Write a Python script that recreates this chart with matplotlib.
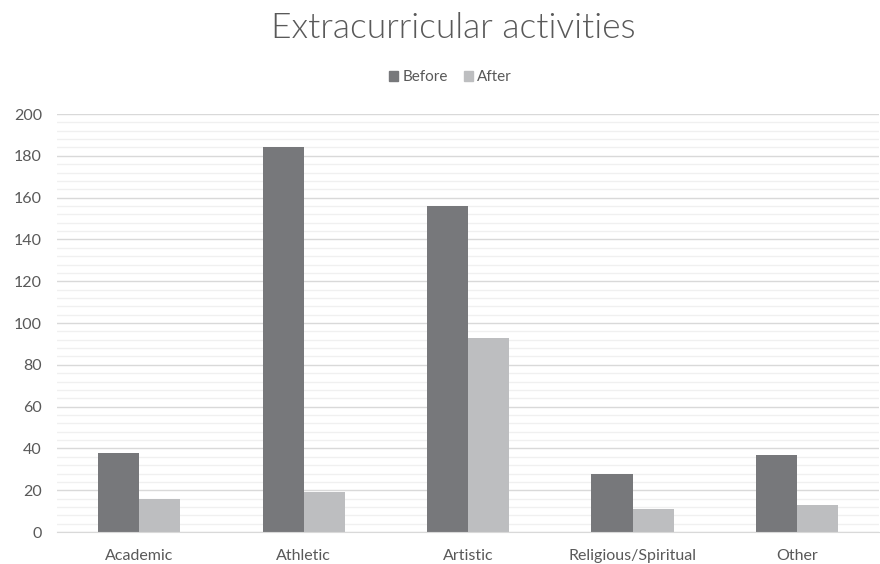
import matplotlib

matplotlib.use("Agg")
import matplotlib.pyplot as plt
import numpy as np
from matplotlib.patches import Patch

CATEGORIES = ["Academic", "Athletic", "Artistic", "Religious/Spiritual", "Other"]
BEFORE = [38, 184, 156, 28, 37]
AFTER = [16, 19, 93, 11, 13]
Y_TICKS = [0, 20, 40, 60, 80, 100, 120, 140, 160, 180, 200]

TEXT = "#595959"
C_BEFORE = "#77787b"
C_AFTER = "#bdbec0"

plt.rcParams["font.family"] = ["Lato", "DejaVu Sans"]

fig = plt.figure(figsize=(8.8, 5.64), dpi=100)
ax = fig.add_axes([0.065, 0.0567, 0.934, 0.7411])

x = np.arange(len(CATEGORIES))
w = 0.25
ax.bar(x - w / 2, BEFORE, width=w, color=C_BEFORE, zorder=3)
ax.bar(x + w / 2, AFTER, width=w, color=C_AFTER, zorder=3)

ax.set_xlim(-0.5, len(CATEGORIES) - 0.5)
ax.set_ylim(0, 200)
ax.set_yticks(Y_TICKS)
ax.set_yticks(np.arange(0, 201, 4), minor=True)
ax.grid(axis="y", which="minor", color="#f0f0f0", linewidth=1, zorder=0)
ax.grid(axis="y", which="major", color="#d9d9d9", linewidth=1, zorder=1)
ax.tick_params(axis="y", which="both", length=0, pad=11, labelsize=11.5, labelcolor=TEXT)
ax.set_xticks(x)
ax.set_xticklabels(CATEGORIES)
ax.tick_params(axis="x", length=0, pad=12, labelsize=11.5, labelcolor=TEXT)
for side in ["top", "right", "left"]:
    ax.spines[side].set_visible(False)
ax.spines["bottom"].set_color("#d9d9d9")
ax.spines["bottom"].set_zorder(4)

fig.text(0.515, 0.95, "Extracurricular activities", ha="center", va="center",
         fontsize=25.5, fontweight=300, color=TEXT)

handles = [Patch(color=C_BEFORE, label="Before"), Patch(color=C_AFTER, label="After")]
fig.legend(handles=handles, loc="center", bbox_to_anchor=(0.512, 0.863), ncol=2,
           frameon=False, fontsize=11, labelcolor=TEXT, handlelength=0.6,
           handleheight=0.6, handletextpad=0.3, columnspacing=1.0)

fig.savefig("out.png", dpi=100)
